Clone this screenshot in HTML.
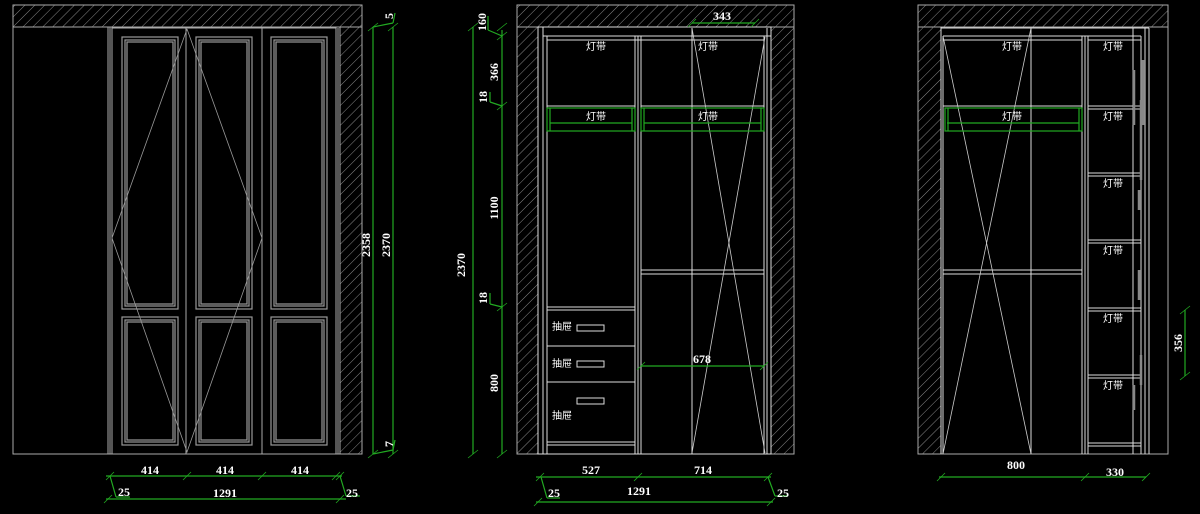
<!DOCTYPE html>
<html><head><meta charset="utf-8"><style>
html,body{margin:0;padding:0;background:#000;}
svg{display:block}
text{font-family:"Liberation Serif","Noto Serif CJK SC",serif;fill:#fff;font-weight:bold;font-size:12px;text-anchor:middle}
.cj{font-family:"Liberation Sans","Noto Sans CJK SC",sans-serif;font-size:10px;font-weight:normal}
</style></head><body>
<svg width="1200" height="514" viewBox="0 0 1200 514" xmlns="http://www.w3.org/2000/svg">
<defs>
<pattern id="h" width="7" height="7" patternUnits="userSpaceOnUse" patternTransform="rotate(45)">
<line x1="0" y1="0" x2="0" y2="7" stroke="#888" stroke-width="1"/>
</pattern>
</defs>
<rect width="1200" height="514" fill="#000"/>

<!-- ================= PANEL 1 ================= -->
<g fill="none" stroke="#aaa" stroke-width="1">
<rect x="13" y="5" width="349" height="22" fill="url(#h)"/>
<rect x="340" y="27" width="22" height="427" fill="url(#h)"/>
<rect x="13" y="5" width="349" height="449"/>
<line x1="108" y1="27" x2="108" y2="454"/>
<line x1="110" y1="27" x2="110" y2="454"/>
<rect x="112" y="28" width="224" height="426"/>
<line x1="186" y1="28" x2="186" y2="454"/>
<line x1="262" y1="28" x2="262" y2="454"/>
<line x1="338" y1="28" x2="338" y2="454"/>
</g>
<g fill="none" stroke="#999" stroke-width="1.2">
<rect x="122" y="37" width="56" height="272"/><rect x="125" y="40" width="50" height="266"/><rect x="127" y="42" width="46" height="262"/>
<rect x="122" y="317" width="56" height="128"/><rect x="125" y="320" width="50" height="122"/><rect x="127" y="322" width="46" height="118"/>
<rect x="196" y="37" width="56" height="272"/><rect x="199" y="40" width="50" height="266"/><rect x="201" y="42" width="46" height="262"/>
<rect x="196" y="317" width="56" height="128"/><rect x="199" y="320" width="50" height="122"/><rect x="201" y="322" width="46" height="118"/>
<rect x="271" y="37" width="56" height="272"/><rect x="274" y="40" width="50" height="266"/><rect x="276" y="42" width="46" height="262"/>
<rect x="271" y="317" width="56" height="128"/><rect x="274" y="320" width="50" height="122"/><rect x="276" y="322" width="46" height="118"/>
</g>
<polyline points="187,29 112,238 187,452 262,238 187,29" fill="none" stroke="#999" stroke-width="0.8"/>

<g stroke="#2a2" stroke-width="1.2" fill="none">
<line x1="373" y1="27" x2="373" y2="454"/>
<line x1="393" y1="27" x2="393" y2="454"/>
<line x1="373" y1="27" x2="393" y2="23"/><line x1="393" y1="23" x2="395" y2="13"/>
<line x1="373" y1="454" x2="393" y2="450"/><line x1="393" y1="450" x2="395" y2="440"/>
<line x1="106" y1="476" x2="342" y2="476"/>
<line x1="106" y1="499" x2="346" y2="499"/>
<line x1="110" y1="476" x2="116" y2="497"/><line x1="116" y1="497" x2="130" y2="497"/>
<line x1="340" y1="476" x2="346" y2="496"/><line x1="346" y1="496" x2="360" y2="496"/>
<g stroke-width="0.8">
<line x1="368" y1="31" x2="378" y2="23"/><line x1="388" y1="31" x2="398" y2="23"/>
<line x1="368" y1="458" x2="378" y2="450"/><line x1="388" y1="458" x2="398" y2="450"/>
<line x1="106" y1="480" x2="114" y2="472"/><line x1="183" y1="480" x2="191" y2="472"/><line x1="258" y1="480" x2="266" y2="472"/><line x1="332" y1="480" x2="340" y2="472"/><line x1="336" y1="480" x2="344" y2="472"/>
<line x1="104" y1="503" x2="112" y2="495"/><line x1="336" y1="503" x2="344" y2="495"/>
</g>
</g>
<text x="150" y="474">414</text><text x="225" y="474">414</text><text x="300" y="474">414</text>
<text x="225" y="497">1291</text><text x="124" y="496">25</text><text x="352" y="497">25</text>
<text transform="translate(370,245) rotate(-90)">2358</text>
<text transform="translate(390,245) rotate(-90)">2370</text>
<text transform="translate(393,16) rotate(-90)">5</text>
<text transform="translate(393,444) rotate(-90)">7</text>

<!-- ================= PANEL 2 ================= -->
<g fill="none" stroke="#aaa" stroke-width="1">
<rect x="517" y="5" width="277" height="22" fill="url(#h)"/>
<rect x="517" y="27" width="21" height="427" fill="url(#h)"/>
<rect x="771" y="27" width="23" height="427" fill="url(#h)"/>
<rect x="517" y="5" width="277" height="449"/>
</g>
<g fill="none" stroke="#ddd" stroke-width="1">
<rect x="538" y="27" width="233" height="427"/>
<line x1="543" y1="27" x2="543" y2="454"/>
<line x1="547" y1="36" x2="547" y2="454"/>
<line x1="635" y1="36" x2="635" y2="454"/>
<line x1="638" y1="36" x2="638" y2="454"/>
<line x1="641" y1="36" x2="641" y2="454"/>
<line x1="764" y1="36" x2="764" y2="454"/>
<line x1="767" y1="28" x2="767" y2="454"/>
<line x1="543" y1="36" x2="771" y2="36"/>
<line x1="547" y1="40" x2="764" y2="40"/>
<line x1="547" y1="106" x2="635" y2="106"/>
<line x1="641" y1="106" x2="764" y2="106"/>
<line x1="547" y1="307" x2="635" y2="307"/><line x1="547" y1="310" x2="635" y2="310"/>
<line x1="547" y1="346" x2="635" y2="346"/>
<line x1="547" y1="382" x2="635" y2="382"/>
<line x1="547" y1="442" x2="635" y2="442"/><line x1="547" y1="445" x2="635" y2="445"/>
<line x1="641" y1="270" x2="764" y2="270"/><line x1="641" y1="274" x2="764" y2="274"/>
<line x1="692" y1="28" x2="692" y2="454"/>
<rect x="577" y="325" width="27" height="6"/>
<rect x="577" y="361" width="27" height="6"/>
<rect x="577" y="398" width="27" height="6"/>
</g>
<g stroke="#ccc" stroke-width="0.8"><line x1="692" y1="28" x2="765" y2="453"/><line x1="765" y1="37" x2="692" y2="453"/></g>
<g fill="none" stroke="#2a2" stroke-width="1.2">
<rect x="547" y="108" width="88" height="23"/><line x1="550" y1="123" x2="632" y2="123"/><line x1="550" y1="108" x2="550" y2="131"/><line x1="632" y1="108" x2="632" y2="131"/>
<rect x="641" y="108" width="123" height="23"/><line x1="644" y1="123" x2="761" y2="123"/><line x1="644" y1="108" x2="644" y2="131"/><line x1="761" y1="108" x2="761" y2="131"/>
<line x1="473" y1="27" x2="473" y2="454"/>
<line x1="502" y1="30" x2="502" y2="454"/>
<line x1="488" y1="16" x2="488" y2="30"/><line x1="488" y1="30" x2="502" y2="36"/>
<line x1="490" y1="92" x2="490" y2="102"/><line x1="490" y1="102" x2="502" y2="106"/>
<line x1="490" y1="293" x2="490" y2="304"/><line x1="490" y1="304" x2="502" y2="307"/>
<line x1="692" y1="23" x2="755" y2="23"/>
<line x1="641" y1="366" x2="764" y2="366"/>
<line x1="536" y1="477" x2="771" y2="477"/>
<line x1="536" y1="502" x2="773" y2="502"/>
<line x1="541" y1="477" x2="547" y2="498"/><line x1="547" y1="498" x2="560" y2="498"/>
<line x1="768" y1="477" x2="775" y2="496"/><line x1="775" y1="496" x2="788" y2="496"/>
<g stroke-width="0.8">
<line x1="468" y1="31" x2="478" y2="23"/><line x1="468" y1="458" x2="478" y2="450"/>
<line x1="497" y1="31" x2="507" y2="23"/><line x1="497" y1="40" x2="507" y2="32"/><line x1="497" y1="110" x2="507" y2="102"/><line x1="497" y1="311" x2="507" y2="303"/><line x1="497" y1="458" x2="507" y2="450"/>
<line x1="688" y1="27" x2="696" y2="19"/><line x1="751" y1="27" x2="759" y2="19"/>
<line x1="637" y1="370" x2="645" y2="362"/><line x1="760" y1="370" x2="768" y2="362"/>
<line x1="536" y1="481" x2="544" y2="473"/><line x1="634" y1="481" x2="642" y2="473"/><line x1="764" y1="481" x2="772" y2="473"/>
<line x1="534" y1="506" x2="542" y2="498"/><line x1="767" y1="506" x2="775" y2="498"/>
</g>
</g>
<text class="cj" x="596" y="50">灯带</text><text class="cj" x="708" y="50">灯带</text>
<text class="cj" x="596" y="120">灯带</text><text class="cj" x="708" y="120">灯带</text>
<text class="cj" x="562" y="330">抽屉</text><text class="cj" x="562" y="367">抽屉</text><text class="cj" x="562" y="419">抽屉</text>
<text x="722" y="20">343</text><text x="702" y="363">678</text>
<text x="591" y="474">527</text><text x="703" y="474">714</text>
<text x="639" y="495">1291</text><text x="554" y="497">25</text><text x="783" y="497">25</text>
<text transform="translate(465,265) rotate(-90)">2370</text>
<text transform="translate(486,22) rotate(-90)">160</text>
<text transform="translate(498,72) rotate(-90)">366</text>
<text transform="translate(487,97) rotate(-90)">18</text>
<text transform="translate(498,208) rotate(-90)">1100</text>
<text transform="translate(487,298) rotate(-90)">18</text>
<text transform="translate(498,383) rotate(-90)">800</text>

<!-- ================= PANEL 3 ================= -->
<g fill="none" stroke="#aaa" stroke-width="1">
<rect x="918" y="5" width="250" height="22" fill="url(#h)"/>
<rect x="918" y="27" width="23" height="427" fill="url(#h)"/>
<rect x="918" y="5" width="250" height="449"/>
</g>
<g fill="none" stroke="#ddd" stroke-width="1">
<line x1="941" y1="27" x2="941" y2="454"/>
<line x1="943" y1="36" x2="943" y2="454"/>
<line x1="1031" y1="28" x2="1031" y2="454"/>
<line x1="1082" y1="36" x2="1082" y2="454"/>
<line x1="1085" y1="36" x2="1085" y2="454"/>
<line x1="1088" y1="36" x2="1088" y2="454"/>
<line x1="1133" y1="28" x2="1133" y2="454"/>
<line x1="1141" y1="36" x2="1141" y2="454"/>
<line x1="1145" y1="28" x2="1145" y2="454"/>
<line x1="1149" y1="28" x2="1149" y2="454"/>
<line x1="941" y1="28" x2="1149" y2="28"/>
<line x1="943" y1="36" x2="1141" y2="36"/>
<line x1="943" y1="40" x2="1082" y2="40"/><line x1="1088" y1="40" x2="1141" y2="40"/>
<line x1="943" y1="106" x2="1082" y2="106"/>
<line x1="943" y1="270" x2="1082" y2="270"/><line x1="943" y1="274" x2="1082" y2="274"/>
<line x1="1088" y1="106" x2="1141" y2="106"/><line x1="1088" y1="109" x2="1141" y2="109"/>
<line x1="1088" y1="173" x2="1141" y2="173"/><line x1="1088" y1="176" x2="1141" y2="176"/>
<line x1="1088" y1="240" x2="1141" y2="240"/><line x1="1088" y1="243" x2="1141" y2="243"/>
<line x1="1088" y1="308" x2="1141" y2="308"/><line x1="1088" y1="311" x2="1141" y2="311"/>
<line x1="1088" y1="375" x2="1141" y2="375"/><line x1="1088" y1="378" x2="1141" y2="378"/>
<line x1="1088" y1="443" x2="1141" y2="443"/><line x1="1088" y1="446" x2="1141" y2="446"/>
</g>
<g stroke="#888" stroke-width="2.5">
<line x1="1134" y1="70" x2="1134" y2="125"/><line x1="1143" y1="60" x2="1143" y2="125"/>
<line x1="1141" y1="100" x2="1141" y2="180"/><line x1="1139" y1="190" x2="1139" y2="210"/>
<line x1="1139" y1="270" x2="1139" y2="300"/><line x1="1141" y1="355" x2="1141" y2="385"/>
<line x1="1134" y1="385" x2="1134" y2="410"/>
</g>
<g stroke="#ccc" stroke-width="0.8"><line x1="943" y1="36" x2="1031" y2="454"/><line x1="1031" y1="28" x2="943" y2="454"/></g>
<g fill="none" stroke="#2a2" stroke-width="1.2">
<rect x="945" y="108" width="137" height="23"/><line x1="947" y1="123" x2="1079" y2="123"/><line x1="948" y1="108" x2="948" y2="131"/><line x1="1079" y1="108" x2="1079" y2="131"/>
<line x1="1185" y1="310" x2="1185" y2="376"/>
<line x1="939" y1="477" x2="1146" y2="477"/>
<g stroke-width="0.8">
<line x1="1180" y1="314" x2="1190" y2="306"/><line x1="1180" y1="380" x2="1190" y2="372"/>
<line x1="937" y1="481" x2="945" y2="473"/><line x1="1081" y1="481" x2="1089" y2="473"/><line x1="1142" y1="481" x2="1150" y2="473"/>
</g>
</g>
<text class="cj" x="1012" y="50">灯带</text><text class="cj" x="1012" y="120">灯带</text>
<text class="cj" x="1113" y="50">灯带</text><text class="cj" x="1113" y="120">灯带</text><text class="cj" x="1113" y="187">灯带</text>
<text class="cj" x="1113" y="254">灯带</text><text class="cj" x="1113" y="322">灯带</text><text class="cj" x="1113" y="389">灯带</text>
<text x="1016" y="469">800</text><text x="1115" y="476">330</text>
<text transform="translate(1182,343) rotate(-90)">356</text>
</svg>
</body></html>
